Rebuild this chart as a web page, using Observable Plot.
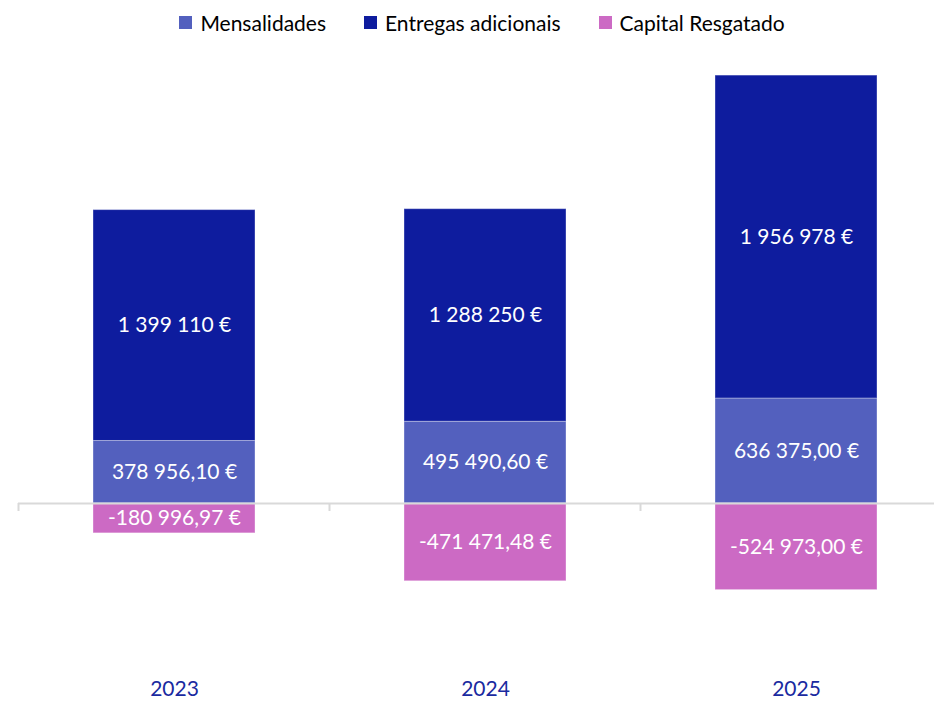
<!DOCTYPE html>
<html>
<head>
<meta charset="utf-8">
<script src="https://cdn.jsdelivr.net/npm/d3@7"></script>
<script src="https://cdn.jsdelivr.net/npm/@observablehq/plot@0.6"></script>
<style>
  html, body { margin: 0; padding: 0; background: #fff; overflow: hidden; }
  body { width: 934px; height: 701px; font-family: Lato, "Open Sans", sans-serif; }
  #legend { height: 45px; display: flex; justify-content: center; align-items: center; gap: 38px; padding-left: 30px; box-sizing: border-box; font-size: 21px; color: #000; }
  #legend .item { display: flex; align-items: center; gap: 8px; }
  #legend .sw { width: 13px; height: 13px; display: inline-block; }
  #chart svg { display: block; }
</style>
</head>
<body>
<div id="legend"></div>
<div id="chart"></div>
<script>
const years = ["2023", "2024", "2025"];
const seriesNames = ["Mensalidades", "Entregas adicionais", "Capital Resgatado"];
const mensalidades = [378956.10, 495490.60, 636375.00];
const entregas = [1399110, 1288250, 1956978];
const capital = [-180996.97, -471471.48, -524973.00];
const colors = ["#5360be", "#0e1c9e", "#cc6ac4"];

const fmtInt = v => d3.format(",.0f")(v).replace(/,/g, " ") + " €";
const fmtDec = v => {
  const s = d3.format(",.2f")(Math.abs(v)).replace(/,/g, " ").replace(/\.(\d\d)$/, ",$1");
  return (v < 0 ? "-" : "") + s + " €";
};

const data = [];
years.forEach((y, i) => {
  data.push({year: y, series: seriesNames[0], value: mensalidades[i], label: fmtDec(mensalidades[i])});
  data.push({year: y, series: seriesNames[1], value: entregas[i], label: fmtInt(entregas[i])});
  data.push({year: y, series: seriesNames[2], value: capital[i], label: fmtDec(capital[i])});
});

// legend
const legend = document.getElementById("legend");
seriesNames.forEach((n, i) => {
  const it = document.createElement("div");
  it.className = "item";
  it.innerHTML = `<span class="sw" style="background:${colors[i]}"></span><span>${n}</span>`;
  legend.appendChild(it);
});

const bandTicks = (index, scales, values, dims) => {
  const x = scales.x, y = scales.y;
  const g = d3.create("svg:g");
  const y0 = y(0);
  const bounds = years.map(yr => x(yr) - (x.step() - x.bandwidth()) / 2);
  bounds.push(bounds[bounds.length - 1] + x.step());
  bounds.forEach(b => {
    g.append("line").attr("x1", b).attr("x2", b).attr("y1", y0).attr("y2", y0 + 8)
      .attr("stroke", "#d9d9d9").attr("stroke-width", 2);
  });
  return g.node();
};

const chart = Plot.plot({
  width: 934,
  height: 656,
  marginTop: 29,
  marginBottom: 33,
  marginLeft: 18,
  marginRight: 0,
  style: {fontFamily: "Lato, 'Open Sans', sans-serif", overflow: "visible"},
  x: {domain: years, range: [18, 951], paddingInner: 0.48, paddingOuter: 0.24, label: null},
  y: {domain: [-1000000, 2600000], axis: null},
  color: {domain: seriesNames, range: colors},
  marks: [
    Plot.barY(data, {x: "year", y: "value", fill: "series", z: "series", order: seriesNames,
      stroke: "#ffffff", strokeOpacity: 0.35, strokeWidth: 1}),
    Plot.ruleY([0], {stroke: "#d9d9d9", strokeWidth: 2}),
    bandTicks,
    Plot.text(data, Plot.stackY({x: "year", y: "value", z: "series", order: seriesNames, text: "label",
      fill: "white", fontSize: 21})),
    Plot.axisX({anchor: "bottom", tickSize: 0, tickPadding: 13, fontSize: 21, color: "#1a2aa0", fill: "#1a2aa0"})
  ]
});
document.getElementById("chart").appendChild(chart);
</script>
</body>
</html>
